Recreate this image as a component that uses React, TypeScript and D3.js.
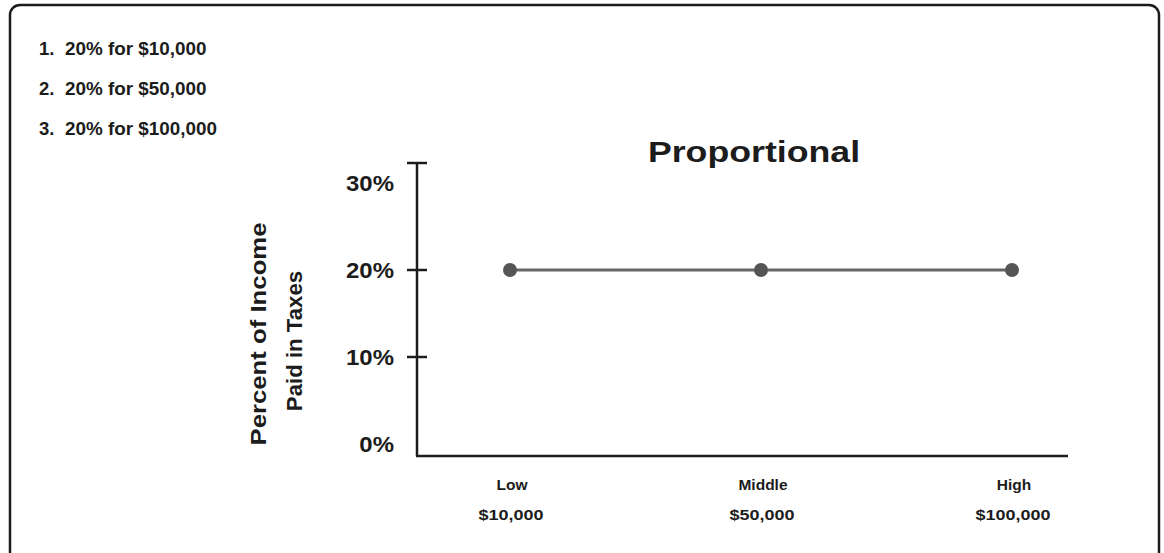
import { useMemo } from "react";
import * as d3 from "d3";

// Proportional tax: same rate at every income level.
const categories = ["Low", "Middle", "High"];
const incomes = ["$10,000", "$50,000", "$100,000"];
const rates = [20, 20, 20];
const yTicks = [0, 10, 20, 30];
const yTickMarks = [10, 20];
const notes = ["20% for $10,000", "20% for $50,000", "20% for $100,000"];

const W = 1164;
const H = 553;
const FONT = "'Liberation Sans', Arial, Helvetica, sans-serif";
const INK = "#1c1c1c";

// Text with a horizontal stretch — the reference type runs a bit wider than Arial.
function WideText({
  x,
  y,
  sx = 1,
  size,
  anchor = "start",
  rotate = 0,
  children,
}: {
  x: number;
  y: number;
  sx?: number;
  size: number;
  anchor?: "start" | "middle" | "end";
  rotate?: number;
  children: React.ReactNode;
}) {
  return (
    <g transform={`translate(${x},${y}) rotate(${rotate}) scale(${sx},1)`}>
      <text textAnchor={anchor} fontSize={size} fontWeight={700} fill={INK}>
        {children}
      </text>
    </g>
  );
}

export default function App() {
  const x = useMemo(() => d3.scalePoint<string>().domain(categories).range([510, 1012]), []);
  const y = useMemo(() => d3.scaleLinear().domain([0, 30]).range([444, 183]), []);

  const axisX = 417;
  const axisTop = 163;
  const axisBottom = 456;
  const axisRight = 1068;

  const pts = categories.map((c, i) => [x(c) ?? 0, y(rates[i])] as [number, number]);
  const line = d3.line()(pts) ?? "";

  return (
    <div style={{ position: "fixed", left: 0, top: 0, width: W, height: H, background: "#fff" }}>
      <svg width={W} height={H} style={{ display: "block" }} fontFamily={FONT}>
        {/* card frame, bottom edge runs off the picture */}
        <rect x={10} y={5} width={1149} height={600} rx={10} fill="none" stroke={INK} strokeWidth={2.5} />

        {notes.map((n, i) => (
          <g key={i}>
            <WideText x={39} y={55 + i * 40} size={18.5}>{`${i + 1}.`}</WideText>
            <WideText x={65} y={55 + i * 40} size={18.5} sx={1.02}>{n}</WideText>
          </g>
        ))}

        <WideText x={754} y={162} size={30} sx={1.19} anchor="middle">
          Proportional
        </WideText>

        {/* y axis title */}
        <WideText x={266} y={334} size={22} sx={1.17} anchor="middle" rotate={-90}>
          Percent of Income
        </WideText>
        <WideText x={302} y={341} size={22} sx={1.01} anchor="middle" rotate={-90}>
          Paid in Taxes
        </WideText>

        {/* axes */}
        <line x1={axisX} x2={axisX} y1={axisTop} y2={axisBottom} stroke={INK} strokeWidth={2.5} />
        <line x1={axisX - 10} x2={axisX + 10} y1={axisTop} y2={axisTop} stroke={INK} strokeWidth={2.5} />
        <line x1={axisX - 1} x2={axisRight} y1={axisBottom} y2={axisBottom} stroke={INK} strokeWidth={2.5} />
        {yTickMarks.map((t) => (
          <line key={t} x1={axisX - 10} x2={axisX + 10} y1={y(t)} y2={y(t)} stroke={INK} strokeWidth={2.5} />
        ))}
        {yTicks.map((t) => (
          <WideText key={t} x={394} y={y(t) + 8} size={22} sx={1.09} anchor="end">
            {`${t}%`}
          </WideText>
        ))}

        {/* x labels */}
        {categories.map((c, i) => (
          <g key={c}>
            <WideText x={(x(c) ?? 0) + 2} y={490} size={15.5} anchor="middle">
              {c}
            </WideText>
            <WideText x={(x(c) ?? 0) + 1} y={520} size={15.5} sx={1.16} anchor="middle">
              {incomes[i]}
            </WideText>
          </g>
        ))}

        <path d={line} fill="none" stroke="#666" strokeWidth={2.8} />
        {pts.map(([px, py], i) => (
          <circle key={i} cx={px} cy={py} r={7} fill="#555" />
        ))}
      </svg>
    </div>
  );
}
